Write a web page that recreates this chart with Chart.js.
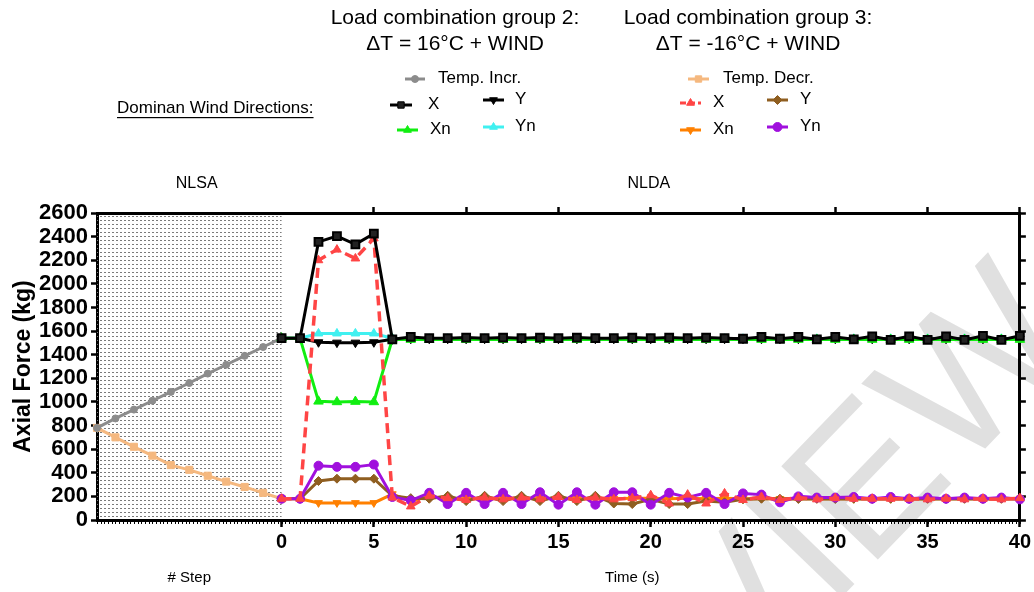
<!DOCTYPE html>
<html>
<head>
<meta charset="utf-8">
<title>Axial Force</title>
<script src="https://cdn.jsdelivr.net/npm/chart.js@4.4.0/dist/chart.umd.min.js"></script>
<style>
  html, body { margin: 0; padding: 0; background: #fff; }
  #wrap { width: 1034px; height: 592px; }
</style>
</head>
<body>
<div id="wrap"><canvas id="chart" width="1034" height="592"></canvas></div>
<script>
'use strict';

// step axis (NLSA) and time axis (NLDA)
var stepX = [-10, -9, -8, -7, -6, -5, -4, -3, -2, -1, 0];
var timeX = [0, 1, 2, 3, 4, 5, 6, 7, 8, 9, 10, 11, 12, 13, 14, 15, 16, 17, 18, 19, 20,
             21, 22, 23, 24, 25, 26, 27, 28, 29, 30, 31, 32, 33, 34, 35, 36, 37, 38, 39, 40];
var xTickValues = [0, 5, 10, 15, 20, 25, 30, 35, 40];
var yTickValues = [0, 200, 400, 600, 800, 1000, 1200, 1400, 1600, 1800, 2000, 2200, 2400, 2600];

// NLSA
var tempIncr = [780, 860, 935, 1010, 1085, 1160, 1240, 1315, 1390, 1465, 1540];
var tempDecr = [780, 700, 620, 545, 465, 425, 375, 325, 280, 230, 180];

// group 2 : dT = +16C + wind
var g2X  = [1540, 1540, 2355, 2405, 2335, 2425, 1530, 1550, 1540, 1540, 1545, 1540, 1545, 1540, 1545, 1540, 1545, 1540, 1540, 1545, 1540,
            1545, 1540, 1545, 1540, 1535, 1550, 1535, 1550, 1530, 1550, 1530, 1555, 1525, 1555, 1525, 1555, 1525, 1560, 1525, 1560];
var g2Y  = [1540, 1540, 1505, 1502, 1502, 1505, 1530, 1535, 1535, 1535, 1535, 1535, 1535, 1535, 1535, 1535, 1535, 1535, 1535, 1535, 1535,
            1535, 1535, 1535, 1535, 1535, 1535, 1535, 1535, 1535, 1535, 1535, 1535, 1535, 1535, 1535, 1535, 1535, 1535, 1535, 1535];
var g2Xn = [1540, 1540, 1005, 1000, 1003, 1000, 1530, 1528, 1528, 1528, 1528, 1528, 1528, 1528, 1528, 1528, 1528, 1528, 1528, 1528, 1528,
            1528, 1528, 1528, 1528, 1528, 1528, 1528, 1528, 1528, 1528, 1528, 1528, 1528, 1528, 1528, 1528, 1528, 1528, 1528, 1528];
var g2Yn = [1540, 1540, 1580, 1580, 1580, 1580, 1540, 1535, 1535, 1535, 1535, 1535, 1535, 1535, 1535, 1535, 1535, 1535, 1535, 1535, 1535,
            1535, 1535, 1535, 1535, 1535, 1535, 1535, 1535, 1535, 1535, 1535, 1535, 1535, 1535, 1535, 1535, 1535, 1535, 1535, 1535];

// group 3 : dT = -16C + wind
var g3X  = [180, 180, 2200, 2290, 2215, 2385, 190, 115, 205, 185, 170, 190, 175, 190, 175, 195, 170, 190, 175, 185, 210,
            140, 215, 140, 225, 170, 195, 170, 190, 175, 185, 180, 180, 180, 180, 175, 180, 175, 180, 175, 185];
var g3Y  = [180, 180, 330, 350, 350, 350, 205, 185, 180, 205, 160, 205, 160, 205, 160, 205, 160, 205, 140, 135, 175,
            135, 135, 160, 150, 175, 180, 180, 178, 180, 178, 180, 178, 180, 178, 180, 178, 180, 178, 180, 178];
var g3Xn = [180, 180, 145, 145, 145, 145, 220, 160, 200, 180, 180, 185, 180, 185, 180, 185, 180, 185, 180, 185, 185,
            180, 185, 180, 185, 180, 182, 180, 182, 180, 182, 180, 182, 180, 182, 180, 182, 180, 182, 180, 182];
var g3Yn = [180, 180, 460, 450, 450, 470, 195, 165, 230, 135, 230, 135, 230, 135, 235, 130, 235, 130, 235, 235, 130,
            230, 190, 230, 135, 225, 215, 150, 200, 190, 190, 195, 180, 195, 180, 190, 180, 190, 180, 190, 175];

function pts(xs, ys) {
  return xs.map(function (x, i) { return { x: x, y: ys[i] }; });
}

function series(label, xs, ys, color, style, radius, extra) {
  var ds = {
    label: label,
    data: pts(xs, ys),
    borderColor: color,
    backgroundColor: color,
    pointBackgroundColor: color,
    pointBorderColor: color,
    borderWidth: 3,
    pointStyle: style,
    pointRadius: radius,
    pointBorderWidth: 1,
    pointRotation: 0,
    clip: 12
  };
  for (var k in extra) ds[k] = extra[k];
  return ds;
}

// first dataset is drawn on top
var datasets = [
  series('X', timeX, g2X, '#000000', 'rect', 5.5, { pointBackgroundColor: '#222', pointBorderWidth: 2 }),
  series('X ', timeX, g3X, '#ff4545', 'triangle', 5, { borderDash: [10, 6], borderWidth: 3.5 }),
  series('Yn ', timeX, g3Yn, '#a010dd', 'circle', 4.5),
  series('Y ', timeX, g3Y, '#8f5e20', 'rectRot', 4.5),
  series('Xn ', timeX, g3Xn, '#ff8000', 'triangle', 4.5, { pointRotation: 180 }),
  series('Xn', timeX, g2Xn, '#11ee11', 'triangle', 5.5),
  series('Y', timeX, g2Y, '#000000', 'triangle', 5, { pointRotation: 180 }),
  series('Yn', timeX, g2Yn, '#40f0f0', 'triangle', 5),
  series('Temp. Incr.', stepX, tempIncr, '#8c8c8c', 'circle', 3.5),
  series('Temp. Decr.', stepX, tempDecr, '#f5b87f', 'rect', 5)
];

function findDs(label) {
  for (var i = 0; i < datasets.length; i++) if (datasets[i].label === label) return datasets[i];
}

// dotted NLSA background
var stipple = {
  id: 'stipple',
  beforeDatasetsDraw: function (chart) {
    var c = chart.ctx, xs = chart.scales.x, a = chart.chartArea;
    var p = document.createElement('canvas');
    p.width = 4; p.height = 4;
    var pc = p.getContext('2d');
    pc.fillStyle = '#7a7a7a';
    pc.fillRect(0, 0, 2, 1);
    var x0 = xs.getPixelForValue(-10), x1 = xs.getPixelForValue(0);
    c.save();
    c.fillStyle = c.createPattern(p, 'repeat');
    c.fillRect(x0, a.top, x1 - x0, a.bottom - a.top);
    c.restore();
  }
};

var watermark = {
  id: 'watermark',
  beforeDraw: function (chart) {
    var c = chart.ctx;
    c.save();
    c.translate(1085, 345);
    c.rotate(-46 * Math.PI / 180);
    c.font = '195px "Liberation Sans", Arial, sans-serif';
    c.fillStyle = '#e0e0e0';
    c.textAlign = 'right';
    c.textBaseline = 'alphabetic';
    c.fillText('REVIEW', 0, 0);
    c.restore();
  }
};

var minorTicks = {
  id: 'minorTicks',
  afterDraw: function (chart) {
    var c = chart.ctx, xs = chart.scales.x, a = chart.chartArea;
    c.save();
    c.strokeStyle = '#000';
    c.lineWidth = 1;
    c.beginPath();
    for (var v = -10; v <= 40.001; v += 0.2) {
      var px = Math.round(xs.getPixelForValue(v)) + 0.5;
      c.moveTo(px, a.bottom + 1);
      c.lineTo(px, a.bottom + 4);
    }
    c.stroke();
    c.restore();
  }
};

var texts = {
  id: 'texts',
  afterDraw: function (chart) {
    var c = chart.ctx, xs = chart.scales.x;
    var font = '"Liberation Sans", Arial, sans-serif';
    c.save();
    c.fillStyle = '#000';
    c.textBaseline = 'middle';
    c.textAlign = 'center';
    c.font = '21px ' + font;
    c.fillText('Load combination group 2:', 455, 18);
    c.fillText('\u0394T = 16\u00B0C + WIND', 455, 44);
    c.fillText('Load combination group 3:', 748, 18);
    c.fillText('\u0394T = -16\u00B0C + WIND', 748, 44);

    c.font = '16px ' + font;
    c.fillText('NLSA', xs.getPixelForValue(-4.6), 184);
    c.fillText('NLDA', xs.getPixelForValue(19.9), 184);
    c.font = '15px ' + font;
    c.fillText('# Step', xs.getPixelForValue(-5), 578);
    c.fillText('Time (s)', xs.getPixelForValue(19), 578);

    // underlined caption
    c.textAlign = 'left';
    c.font = '17px ' + font;
    c.fillText('Dominan Wind Directions:', 117, 108);
    var w = c.measureText('Dominan Wind Directions:').width;
    c.fillRect(117, 117, w, 1.2);

    var items = [
      ['Temp. Incr.', 405, 425, 79, 438],
      ['X', 390, 412, 105, 428],
      ['Y', 483, 504, 100, 515],
      ['Xn', 397, 418, 130, 430],
      ['Yn', 483, 504, 127, 515],
      ['Temp. Decr.', 688, 709, 79, 723],
      ['X ', 680, 701, 103, 713],
      ['Y ', 767, 788, 100, 800],
      ['Xn ', 680, 701, 130, 713],
      ['Yn ', 767, 788, 127, 800]
    ];
    c.font = '17px ' + font;
    items.forEach(function (it) {
      var ds = findDs(it[0]);
      var y = it[3];
      c.save();
      c.strokeStyle = ds.borderColor;
      c.lineWidth = 3;
      c.setLineDash(ds.borderDash ? [6, 3] : []);
      c.beginPath();
      c.moveTo(it[1], y);
      c.lineTo(it[2], y);
      c.stroke();
      c.setLineDash([]);
      c.fillStyle = ds.pointBackgroundColor;
      c.strokeStyle = ds.pointBorderColor;
      c.lineWidth = 1;
      Chart.helpers.drawPoint(c, {
        pointStyle: ds.pointStyle,
        radius: Math.min(ds.pointRadius, 4.5),
        rotation: ds.pointRotation,
        borderWidth: 1
      }, (it[1] + it[2]) / 2, y);
      c.restore();
      c.fillStyle = '#000';
      c.fillText(it[0].trim(), it[4], y - 1);
    });
    c.restore();
  }
};

var tickFont = { family: '"Liberation Sans", Arial, sans-serif', size: 20, weight: 'bold' };

new Chart(document.getElementById('chart').getContext('2d'), {
  type: 'line',
  data: { datasets: datasets },
  plugins: [watermark, stipple, minorTicks, texts],
  options: {
    responsive: false,
    animation: false,
    layout: { padding: 0 },
    elements: { line: { tension: 0 } },
    plugins: { legend: { display: false }, tooltip: { enabled: false } },
    scales: {
      x: {
        type: 'linear', position: 'bottom', min: -10, max: 40,
        afterBuildTicks: function (s) { s.ticks = xTickValues.map(function (v) { return { value: v }; }); },
        afterFit: function (s) { s.height = 72; },
        ticks: { autoSkip: false, maxRotation: 0, color: '#000', font: tickFont, padding: 3,
                 callback: function (v) { return String(v); } },
        grid: { drawOnChartArea: false, tickLength: 7, tickWidth: 2.5, tickColor: '#000' },
        border: { color: '#000', width: 3 }
      },
      xTop: {
        type: 'linear', position: 'top', min: -10, max: 40,
        afterBuildTicks: function (s) { s.ticks = xTickValues.slice(1).map(function (v) { return { value: v }; }); },
        afterFit: function (s) { s.height = 213; },
        ticks: { callback: function () { return ''; } },
        grid: { drawOnChartArea: false, tickLength: 6, tickWidth: 2.5, tickColor: '#000' },
        border: { color: '#000', width: 3 }
      },
      y: {
        min: 0, max: 2600,
        afterBuildTicks: function (s) { s.ticks = yTickValues.map(function (v) { return { value: v }; }); },
        afterFit: function (s) { s.width = 97; },
        ticks: { autoSkip: false, color: '#000', font: { family: tickFont.family, size: 22, weight: 'bold' }, padding: 3,
                 callback: function (v) { return String(v); } },
        grid: { drawOnChartArea: false, tickLength: 6, tickWidth: 2.5, tickColor: '#000' },
        border: { color: '#000', width: 3 },
        title: {
          display: true, text: 'Axial Force (kg)', color: '#000',
          font: { family: tickFont.family, size: 23, weight: 'bold' }, padding: { top: 10, bottom: 0 }
        }
      },
      yRight: {
        position: 'right', min: 0, max: 2600,
        afterBuildTicks: function (s) { s.ticks = yTickValues.map(function (v) { return { value: v }; }); },
        afterFit: function (s) { s.width = 14; },
        ticks: { autoSkip: false, callback: function () { return ''; } },
        grid: { drawOnChartArea: false, tickLength: 6, tickWidth: 2.5, tickColor: '#000' },
        border: { color: '#000', width: 3 }
      }
    }
  }
});
</script>
</body>
</html>
